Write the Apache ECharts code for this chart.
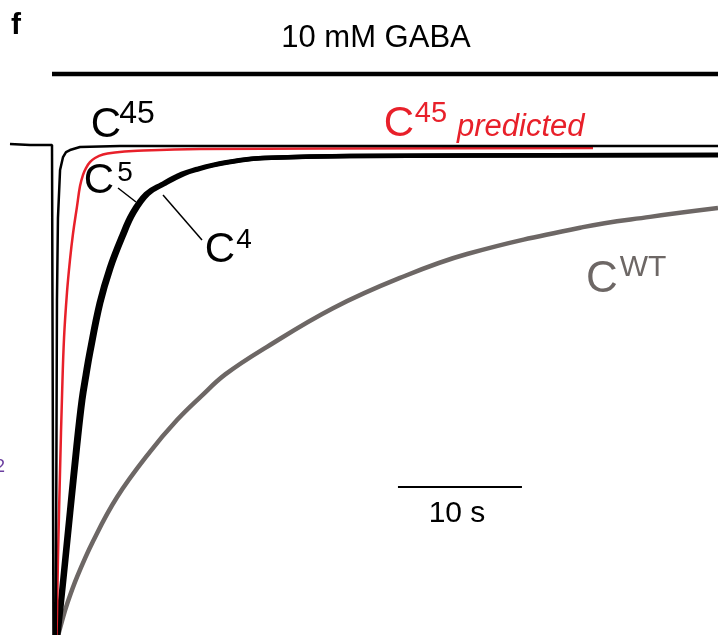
<!DOCTYPE html>
<html><head><meta charset="utf-8">
<script src="https://cdn.jsdelivr.net/npm/echarts@6/dist/echarts.min.js"></script>
<style>html,body{margin:0;padding:0;background:#fff}#c{width:718px;height:635px}</style>
</head><body><div id="c"></div>
<script>
// time in s (0 = GABA application), current in % of peak (negative = inward)
const c45 = [[-3.39,0.51],[-1.77,0.31],[0,0.31],[0.08,0.1],[0.12,-102],[0.30,-102],[0.36,-60],[0.40,-31.4],[0.48,-14.6],[0.65,-4.8],[0.89,-2.15],[1.13,-1.13],[1.45,-0.72],[2.26,-0.1],[5.48,0.1],[53.71,0.1]];
const c45Predicted = [[0.32,-102],[0.36,-100],[0.40,-95.9],[0.48,-84.6],[0.65,-66.2],[0.81,-50.9],[0.97,-39.2],[1.21,-29.8],[1.45,-23.2],[1.69,-17.9],[2.02,-12.2],[2.26,-8.1],[2.50,-5.8],[2.74,-4.4],[3.06,-3.2],[3.47,-2.35],[4.11,-1.64],[5.08,-1.23],[6.53,-0.92],[11.94,-0.51],[43.63,-0.31]];
const c5 = [[0.36,-101],[0.45,-98.6],[0.83,-88.7],[1.36,-75.0],[1.89,-61.5],[2.32,-51.9],[2.64,-46.8],[2.96,-42.1],[3.77,-32.0],[4.58,-24.9],[5.55,-18.5],[6.43,-13.6],[7.56,-9.7],[8.85,-7.7],[10.46,-5.6],[11.67,-4.6],[12.88,-3.8],[15.06,-2.8],[16.92,-2.35],[24,-1.94],[53.71,-1.7]];
const c4 = [[0.44,-101],[0.57,-98.6],[0.99,-88.7],[1.54,-75.0],[2.09,-61.5],[2.52,-51.9],[2.84,-46.8],[3.16,-42.1],[3.97,-32.0],[4.78,-24.9],[5.75,-18.5],[6.63,-13.6],[7.76,-9.7],[9.05,-7.7],[10.66,-5.6],[11.87,-4.6],[13.08,-3.8],[15.26,-2.8],[17.12,-2.35],[24.1,-1.94],[53.71,-1.8]];
const cWT = [[0.40,-101],[0.81,-97.1],[1.21,-93.7],[2.02,-88.1],[3.31,-80.8],[5.24,-71.8],[7.90,-62.5],[10.08,-56.0],[12.0,-51.2],[14.0,-46.6],[17.34,-41.0],[22.66,-33.1],[28.06,-26.9],[33.47,-22.0],[42.82,-16.5],[48.23,-14.4],[53.71,-12.6]];
const gabaBar = [[0,14.84],[53.71,14.84]];
const scaleBar = [[27.9,-69.7],[37.9,-69.7]];
const FONT = '"Liberation Sans", Arial, sans-serif';

const chart = echarts.init(document.getElementById('c'), null, {renderer:'canvas'});
function line(data, color, width, smooth){
  return {type:'line', data, symbol:'none', smooth: smooth || false, animation:false,
    lineStyle:{color, width}, z: 2};
}
function txt(x,y,text,size,color,extra){
  return {type:'text', x, y, style:Object.assign({text, fontSize:size, fontFamily:FONT, fill:color, align:'center', verticalAlign:'middle'}, extra||{})};
}
chart.setOption({
  animation:false,
  grid:{left:0,right:0,top:0,bottom:0},
  xAxis:{type:'value', min:-4.194, max:53.71, show:false},
  yAxis:{type:'value', min:-100, max:30, show:false},
  series:[
    line(cWT,'#6d6765',4.5,0.4),
    line(c4,'#000',4.5,0.4),
    line(c5,'#000',4.5,0.4),
    line(c45Predicted,'#e8202a',2.5,0.4),
    line(c45,'#000',2.5,false),
    line(gabaBar,'#000',4.5,false),
    line(scaleBar,'#000',2,false)
  ],
  graphic:[
    txt(16,26,'f',30,'#000',{fontWeight:'bold'}),
    txt(376,38,'10 mM GABA',31,'#000'),
    txt(106,125,'C',42,'#000'),
    txt(137,114,'45',32,'#000'),
    txt(99,181,'C',42,'#000'),
    txt(125,173,'5',28,'#000'),
    txt(220,250,'C',42,'#000'),
    txt(244,240,'4',28,'#000'),
    txt(399,124,'C',42,'#e8202a'),
    txt(431,114,'45',29,'#e8202a'),
    txt(457,127,'predicted',31,'#e8202a',{fontStyle:'italic',align:'left'}),
    txt(602,280,'C',44,'#6d6765'),
    txt(643,268,'WT',30,'#6d6765'),
    txt(457,514,'10 s',30,'#000'),
    txt(-5,467,'2',18,'#6b3fa0',{align:'left'}),
    {type:'line', shape:{x1:118,y1:188,x2:136,y2:202}, style:{stroke:'#000', lineWidth:1.5}},
    {type:'line', shape:{x1:163,y1:195,x2:202,y2:240}, style:{stroke:'#000', lineWidth:1.5}}
  ]
});
</script></body></html>
